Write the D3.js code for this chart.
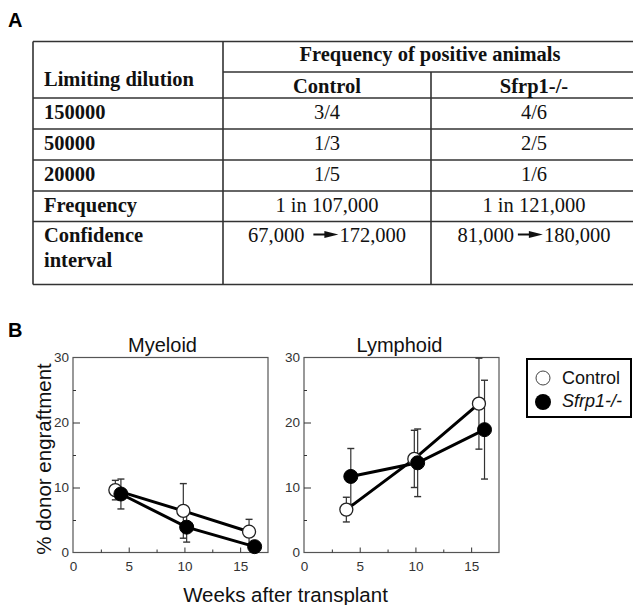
<!DOCTYPE html>
<html>
<head>
<meta charset="utf-8">
<script src="https://cdn.jsdelivr.net/npm/d3@7.9.0/dist/d3.min.js"></script>
<style>
  html, body { margin: 0; padding: 0; background: #fff; }
  svg { display: block; }
  .serif { font-family: "Liberation Serif", "Times New Roman", serif; }
  .sans { font-family: "Liberation Sans", Arial, sans-serif; }
</style>
</head>
<body>
<svg id="fig" width="633" height="605"></svg>
<script>
// ---- panel A: table ----
const dilutions = ["150000", "50000", "20000"];
const controlPositive = ["3/4", "1/3", "1/5"];
const sfrpPositive = ["4/6", "2/5", "1/6"];
const frequencyRow = ["1 in 107,000", "1 in 121,000"];
const confLow = ["67,000", "81,000"];
const confHigh = ["172,000", "180,000"];
const groupNames = ["Control", "Sfrp1-/-"];

// ---- panel B: engraftment (%), mean and error ----
const yTicks = [0, 10, 20, 30];
const xTicks = [0, 5, 10, 15];

const myeloidWeeksCtl = [3.8, 9.9, 15.8];
const myeloidCtl = [9.6, 6.4, 3.2];
const myeloidCtlErr = [1.5, 4.2, 1.9];
const myeloidWeeksKo = [4.3, 10.2, 16.3];
const myeloidKo = [9.0, 3.9, 0.9];
const myeloidKoErr = [2.3, 2.3, 0.3];

const lymphoidWeeksCtl = [3.8, 9.9, 15.7];
const lymphoidCtl = [6.6, 14.4, 22.9];
const lymphoidCtlErr = [1.9, 4.4, 7.0];
const lymphoidWeeksKo = [4.2, 10.2, 16.2];
const lymphoidKo = [11.7, 13.8, 18.9];
const lymphoidKoErr = [4.3, 5.2, 7.6];

const svg = d3.select("#fig");

// panel letters
svg.append("text").attr("class", "sans").attr("x", 8).attr("y", 27)
  .attr("font-size", 20).attr("font-weight", "bold").text("A");
svg.append("text").attr("class", "sans").attr("x", 8).attr("y", 337)
  .attr("font-size", 20).attr("font-weight", "bold").text("B");

// ---------- table ----------
const colX = [33, 223, 431, 637];
const rowY = [41.5, 98, 129, 160, 191, 221.5, 284.5];
const subLineY = 72;
const colCenter = [(colX[1] + colX[2]) / 2, (colX[2] + colX[3]) / 2];
const tbl = svg.append("g").attr("class", "serif");
const lineCol = "#333";

rowY.forEach((y, i) => {
  tbl.append("line").attr("x1", colX[0]).attr("x2", colX[3]).attr("y1", y).attr("y2", y)
    .attr("stroke", lineCol).attr("stroke-width", 1.6);
});
tbl.append("line").attr("x1", colX[1]).attr("x2", colX[3]).attr("y1", subLineY).attr("y2", subLineY)
  .attr("stroke", lineCol).attr("stroke-width", 1.6);
[[colX[0], rowY[0]], [colX[1], rowY[0]], [colX[2], subLineY]].forEach(([x, y0]) => {
  tbl.append("line").attr("x1", x).attr("x2", x).attr("y1", y0).attr("y2", rowY[6])
    .attr("stroke", lineCol).attr("stroke-width", 1.6);
});

const fs = 20.5;
function cellText(x, y, txt, bold, anchor) {
  return tbl.append("text").attr("x", x).attr("y", y)
    .attr("font-size", fs).attr("font-weight", bold ? "bold" : "normal")
    .attr("text-anchor", anchor || "middle").attr("fill", "#111").text(txt);
}

cellText((colX[1] + colX[3]) / 2, 61, "Frequency of positive animals", true);
cellText(44, 86, "Limiting dilution", true, "start");
groupNames.forEach((g, i) => cellText(colCenter[i], 92.5, g, true));

dilutions.forEach((d, i) => {
  const base = rowY[i + 1] + 20.5;
  cellText(44, base, d, true, "start");
  cellText(colCenter[0], base, controlPositive[i], false);
  cellText(colCenter[1], base, sfrpPositive[i], false);
});

cellText(44, rowY[4] + 20.5, "Frequency", true, "start");
frequencyRow.forEach((f, i) => cellText(colCenter[i], rowY[4] + 20.5, f, false));

cellText(44, rowY[5] + 20, "Confidence", true, "start");
cellText(44, rowY[5] + 45, "interval", true, "start");

// interval cells: low -> arrow -> high
const gaps = [9, 4];
confLow.forEach((lo, i) => {
  const base = rowY[5] + 20;
  const g = tbl.append("g");
  const t1 = g.append("text").attr("y", base).attr("font-size", fs).attr("fill", "#111").text(lo);
  const w1 = t1.node().getComputedTextLength();
  const ax = w1 + gaps[i];
  const aw = 25;
  const ay = base - 7;
  g.append("line").attr("x1", ax).attr("x2", ax + 13).attr("y1", ay).attr("y2", ay)
    .attr("stroke", "#111").attr("stroke-width", 2);
  g.append("path").attr("d", `M${ax + 11},${ay - 3.5}L${ax + aw},${ay}L${ax + 11},${ay + 3.5}Z`).attr("fill", "#111");
  const t2 = g.append("text").attr("x", ax + aw + 1).attr("y", base).attr("font-size", fs)
    .attr("fill", "#111").text(confHigh[i]);
  const total = ax + aw + 1 + t2.node().getComputedTextLength();
  g.attr("transform", `translate(${colCenter[i] - total / 2},0)`);
});

// ---------- plots ----------
const yScale = d3.scaleLinear().domain([0, 30]).range([552.5, 357.5]);

const panels = [
  { title: "Myeloid", left: 73, right: 268, titleShift: -8,
    ctl: { x: myeloidWeeksCtl, y: myeloidCtl, e: myeloidCtlErr },
    ko: { x: myeloidWeeksKo, y: myeloidKo, e: myeloidKoErr } },
  { title: "Lymphoid", left: 304, right: 499, titleShift: -2,
    ctl: { x: lymphoidWeeksCtl, y: lymphoidCtl, e: lymphoidCtlErr },
    ko: { x: lymphoidWeeksKo, y: lymphoidKo, e: lymphoidKoErr } }
];

panels.forEach(p => {
  const x = d3.scaleLinear().domain([0, 17.5]).range([p.left, p.right]);
  const y = yScale;
  const g = svg.append("g").attr("class", "sans");

  // frame
  g.append("rect").attr("x", x(0)).attr("y", y(30)).attr("width", x(17.5) - x(0)).attr("height", y(0) - y(30))
    .attr("fill", "none").attr("stroke", "#555").attr("stroke-width", 1.2);

  // y axis: inward ticks
  const yAx = g.append("g").attr("transform", `translate(${x(0)},0)`)
    .call(d3.axisRight(y).tickValues([5, 10, 15, 20, 25]).tickSize(0).tickFormat(""));
  yAx.select(".domain").remove();
  yAx.selectAll(".tick line").attr("x2", d => d % 10 === 0 ? 7 : 3).attr("stroke", "#333");

  const yLab = g.append("g").attr("transform", `translate(${x(0)},0)`)
    .call(d3.axisLeft(y).tickValues(yTicks).tickSize(0).tickPadding(4));
  yLab.select(".domain").remove();
  yLab.selectAll("text").attr("font-size", 13.5).attr("fill", "#333")
    .attr("font-family", "'Liberation Sans', Arial, sans-serif");

  // x axis: inward ticks
  const xAx = g.append("g").attr("transform", `translate(0,${y(0)})`)
    .call(d3.axisTop(x).tickValues([2.5, 5, 7.5, 10, 12.5, 15]).tickSize(0).tickFormat(""));
  xAx.select(".domain").remove();
  xAx.selectAll(".tick line").attr("y2", d => d % 5 === 0 ? -5 : -3).attr("stroke", "#333");

  const xLab = g.append("g").attr("transform", `translate(0,${y(0)})`)
    .call(d3.axisBottom(x).tickValues(xTicks).tickSize(0).tickPadding(9));
  xLab.select(".domain").remove();
  xLab.selectAll("text").attr("font-size", 13.5).attr("fill", "#333")
    .attr("font-family", "'Liberation Sans', Arial, sans-serif");

  // title
  g.append("text").attr("x", (x(0) + x(17.5)) / 2 + p.titleShift).attr("y", 352)
    .attr("text-anchor", "middle").attr("font-size", 20).attr("fill", "#111").text(p.title);

  const series = [
    { d: p.ctl, open: true },
    { d: p.ko, open: false }
  ];

  // error bars
  series.forEach(s => {
    s.d.x.forEach((wk, i) => {
      const cx = x(wk);
      const hi = Math.min(30, s.d.y[i] + s.d.e[i]);
      const lo = Math.max(0, s.d.y[i] - s.d.e[i]);
      g.append("line").attr("x1", cx).attr("x2", cx).attr("y1", y(lo)).attr("y2", y(hi))
        .attr("stroke", "#333").attr("stroke-width", 1.2);
      [lo, hi].forEach(v => {
        if (v <= 0 || v >= 30) return;
        g.append("line").attr("x1", cx - 3.5).attr("x2", cx + 3.5).attr("y1", y(v)).attr("y2", y(v))
          .attr("stroke", "#333").attr("stroke-width", 1.4);
      });
    });
  });

  // lines
  const line = d3.line().x(d => x(d[0])).y(d => y(d[1]));
  series.forEach(s => {
    g.append("path").attr("d", line(d3.zip(s.d.x, s.d.y)))
      .attr("fill", "none").attr("stroke", "#000").attr("stroke-width", 3);
  });

  // markers
  series.forEach(s => {
    s.d.x.forEach((wk, i) => {
      g.append("circle").attr("cx", x(wk)).attr("cy", y(s.d.y[i]))
        .attr("r", s.open ? 6.5 : 7)
        .attr("fill", s.open ? "#fff" : "#000")
        .attr("stroke", s.open ? "#222" : "#000").attr("stroke-width", s.open ? 1.3 : 1);
    });
  });
});

// axis titles
svg.append("text").attr("class", "sans")
  .attr("transform", "translate(51,459) rotate(-90)")
  .attr("text-anchor", "middle").attr("font-size", 20.5).attr("fill", "#111")
  .text("% donor engraftment");
svg.append("text").attr("class", "sans").attr("x", 285.5).attr("y", 602)
  .attr("text-anchor", "middle").attr("font-size", 20.5).attr("fill", "#111")
  .text("Weeks after transplant");

// legend
const lg = svg.append("g").attr("class", "sans");
lg.append("rect").attr("x", 527).attr("y", 359).attr("width", 104).attr("height", 58)
  .attr("fill", "#fff").attr("stroke", "#000").attr("stroke-width", 2);
lg.append("circle").attr("cx", 543).attr("cy", 378).attr("r", 7)
  .attr("fill", "#fff").attr("stroke", "#444").attr("stroke-width", 1);
lg.append("circle").attr("cx", 543).attr("cy", 402).attr("r", 8).attr("fill", "#000");
lg.append("text").attr("x", 562).attr("y", 384).attr("font-size", 18).attr("fill", "#111").text(groupNames[0]);
lg.append("text").attr("x", 562).attr("y", 407).attr("font-size", 18).attr("font-style", "italic")
  .attr("fill", "#111").text(groupNames[1]);
</script>
</body>
</html>
